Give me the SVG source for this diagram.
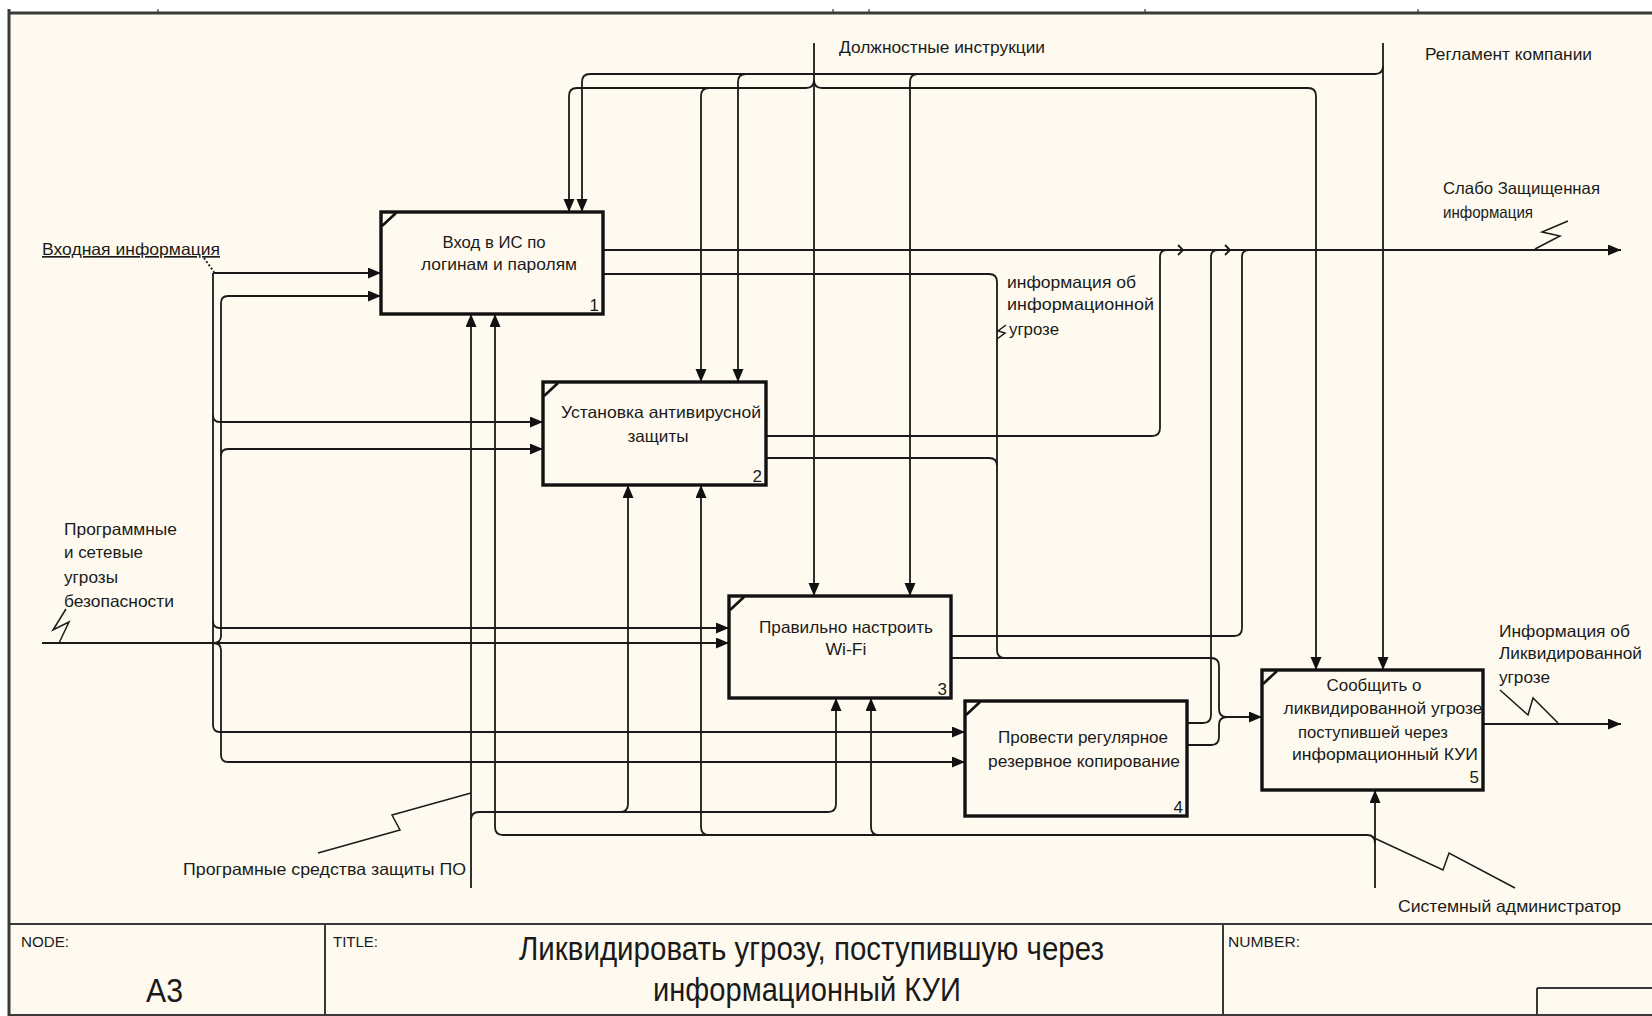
<svg xmlns="http://www.w3.org/2000/svg" width="1652" height="1016" viewBox="0 0 1652 1016">
  <defs>
    <marker id="ah" markerUnits="userSpaceOnUse" markerWidth="14" markerHeight="12" refX="13" refY="5.5" orient="auto">
      <path d="M0,0 L13,5.5 L0,11 z" fill="#111"/>
    </marker>
    <style>
      .frame { fill: none; stroke: #3a3a3a; }
      .box { fill: none; stroke: #111; stroke-width: 3.4; }
      .notch { stroke: #111; stroke-width: 2.6; }
      .c { fill: none; stroke: #1a1a1a; stroke-width: 1.8; }
      .ca { fill: none; stroke: #1a1a1a; stroke-width: 1.8; marker-end: url(#ah); }
      .sq { fill: none; stroke: #1a1a1a; stroke-width: 1.5; }
      .t { font-family: "Liberation Sans", Arial, sans-serif; font-size: 16.5px; fill: #1a1a1a; }
      .bt { font-family: "Liberation Sans", Arial, sans-serif; font-size: 16.5px; fill: #1a1a1a; text-anchor: middle; }
      .num { font-family: "Liberation Sans", Arial, sans-serif; font-size: 17px; fill: #1a1a1a; text-anchor: end; }
      .hdr { font-family: "Liberation Sans", Arial, sans-serif; font-size: 15px; fill: #1a1a1a; }
      .big { font-family: "Liberation Sans", Arial, sans-serif; font-size: 34px; fill: #1a1a1a; }
    </style>
  </defs>

  <!-- sheet -->
  <rect x="0" y="0" width="1652" height="1016" fill="#ffffff"/>
  <rect x="9" y="13" width="1643" height="1003" fill="#fffaef"/>
  <g id="frame">
    <line class="frame" x1="9" y1="13" x2="1652" y2="13" stroke-width="3"/>
    <line class="frame" x1="9" y1="9" x2="9" y2="1016" stroke-width="3"/>
    <line class="frame" x1="158" y1="9" x2="158" y2="13" stroke-width="1.2"/>
    <line class="frame" x1="833" y1="9" x2="833" y2="13" stroke-width="1.2"/>
    <line class="frame" x1="869" y1="9" x2="869" y2="13" stroke-width="1.2"/>
    <line class="frame" x1="1145" y1="9" x2="1145" y2="13" stroke-width="1.2"/>
    <line class="frame" x1="1418" y1="9" x2="1418" y2="13" stroke-width="1.2"/>
    <line class="frame" x1="9" y1="924" x2="1652" y2="924" stroke-width="2"/>
    <line class="frame" x1="9" y1="1015" x2="1652" y2="1015" stroke-width="2"/>
    <line class="frame" x1="325" y1="924" x2="325" y2="1015" stroke-width="2"/>
    <line class="frame" x1="1223" y1="924" x2="1223" y2="1015" stroke-width="2"/>
    <line class="frame" x1="1537" y1="988" x2="1652" y2="988" stroke-width="2"/>
    <line class="frame" x1="1537" y1="988" x2="1537" y2="1015" stroke-width="2"/>
    <text class="hdr" x="21" y="947" textLength="48" lengthAdjust="spacingAndGlyphs">NODE:</text>
    <text class="big" x="146" y="1002" textLength="37" lengthAdjust="spacingAndGlyphs">A3</text>
    <text class="hdr" x="333" y="947" textLength="45" lengthAdjust="spacingAndGlyphs">TITLE:</text>
    <text class="big" x="519" y="960" textLength="585" lengthAdjust="spacingAndGlyphs">Ликвидировать угрозу, поступившую через</text>
    <text class="big" x="653" y="1001" textLength="308" lengthAdjust="spacingAndGlyphs">информационный КУИ</text>
    <text class="hdr" x="1228" y="947" textLength="72" lengthAdjust="spacingAndGlyphs">NUMBER:</text>
  </g>

  <!-- arrows -->
  <g id="connectors">
    <!-- input: Входная информация -->
    <path class="ca" d="M213 273 H381"/>
    <path class="ca" d="M213 273 V725 Q213 732 220 732 H965"/>
    <path class="ca" d="M213 415 Q213 422 220 422 H543"/>
    <path class="ca" d="M213 621 Q213 628 220 628 H729"/>
    <path class="c" d="M204 258 L214 272" stroke-dasharray="2 2"/>

    <!-- input: Программные и сетевые угрозы безопасности -->
    <path class="ca" d="M42 643 H729"/>
    <path class="ca" d="M213 643 Q221 643 221 636 V303 Q221 296 228 296 H381"/>
    <path class="ca" d="M213 643 Q221 643 221 650 V755 Q221 762 228 762 H965"/>
    <path class="ca" d="M221 456 Q221 449 228 449 H543"/>
    <path class="sq" d="M66 609 L53 630 L69 622 L59 643"/>

    <!-- control: Должностные инструкции -->
    <path class="ca" d="M814 43 V596"/>
    <path class="ca" d="M814 80 Q814 88 806 88 H577 Q569 88 569 96 V212"/>
    <path class="ca" d="M709 88 Q701 88 701 96 V382"/>
    <path class="ca" d="M814 80 Q814 88 822 88 H1308 Q1316 88 1316 96 V670"/>

    <!-- control: Регламент компании -->
    <path class="ca" d="M1383 43 V670"/>
    <path class="ca" d="M1383 66 Q1383 74 1375 74 H590 Q582 74 582 82 V212"/>
    <path class="ca" d="M746 74 Q738 74 738 82 V382"/>
    <path class="ca" d="M918 74 Q910 74 910 82 V596"/>

    <!-- mechanism: Програмные средства защиты ПО -->
    <path class="ca" d="M471 888 V314"/>
    <path class="ca" d="M471 820 Q471 812 479 812 H828 Q836 812 836 804 V698"/>
    <path class="ca" d="M620 812 Q628 812 628 804 V485"/>
    <path class="sq" d="M318 853 L400 830 L392 815 L471 793"/>

    <!-- mechanism: Системный администратор -->
    <path class="ca" d="M1375 888 V790"/>
    <path class="ca" d="M1375 843 Q1375 835 1367 835 H503 Q495 835 495 827 V314"/>
    <path class="ca" d="M709 835 Q701 835 701 827 V485"/>
    <path class="ca" d="M879 835 Q871 835 871 827 V698"/>
    <path class="sq" d="M1372 837 L1443 870 L1449 853 L1515 888"/>

    <!-- output: Слабо Защищенная информация -->
    <path class="ca" d="M603 250 H1621"/>
    <path class="c" d="M766 436 H1152 Q1160 436 1160 428 V257 Q1160 250 1167 250"/>
    <path class="c" d="M951 636 H1234 Q1242 636 1242 628 V257 Q1242 250 1249 250"/>
    <path class="c" d="M1187 723 H1203 Q1211 723 1211 715 V257 Q1211 250 1218 250"/>
    <path class="c" d="M1178 245 L1183 250 L1178 255"/>
    <path class="c" d="M1225 245 L1230 250 L1225 255"/>
    <path class="sq" d="M1568 221 L1542 232 L1560 236 L1535 249"/>

    <!-- internal: информация об информационной угрозе -> box 5 -->
    <path class="ca" d="M603 274 H989 Q997 274 997 282 V650 Q997 658 1005 658 H1211 Q1219 658 1219 666 V709 Q1219 717 1227 717 H1262"/>
    <path class="c" d="M766 458 H989 Q997 458 997 466"/>
    <path class="c" d="M951 658 H1005"/>
    <path class="c" d="M1187 745 H1211 Q1219 745 1219 737 V725 Q1219 717 1227 717"/>
    <path class="sq" d="M1006 325 L998 331 L1005 333 L997 339"/>

    <!-- output: Информация об Ликвидированной угрозе -->
    <path class="ca" d="M1483 724 H1621"/>
    <path class="sq" d="M1500 690 L1528 715 L1533 698 L1558 723"/>
  </g>

  <!-- arrow labels -->
  <g id="labels">
    <text class="t" x="42" y="255" textLength="178" lengthAdjust="spacingAndGlyphs" text-decoration="underline">Входная информация</text>
    <text class="t" x="839" y="53" textLength="206" lengthAdjust="spacingAndGlyphs">Должностные инструкции</text>
    <text class="t" x="1425" y="60" textLength="167" lengthAdjust="spacingAndGlyphs">Регламент компании</text>
    <text class="t" x="1443" y="194" textLength="157" lengthAdjust="spacingAndGlyphs">Слабо Защищенная</text>
    <text class="t" x="1443" y="218" textLength="90" lengthAdjust="spacingAndGlyphs">информация</text>
    <text class="t" x="1007" y="288" textLength="129" lengthAdjust="spacingAndGlyphs">информация об</text>
    <text class="t" x="1007" y="310" textLength="147" lengthAdjust="spacingAndGlyphs">информационной</text>
    <text class="t" x="1009" y="335" textLength="50" lengthAdjust="spacingAndGlyphs">угрозе</text>
    <text class="t" x="64" y="535" textLength="113" lengthAdjust="spacingAndGlyphs">Программные</text>
    <text class="t" x="64" y="558" textLength="79" lengthAdjust="spacingAndGlyphs">и сетевые</text>
    <text class="t" x="64" y="583" textLength="54" lengthAdjust="spacingAndGlyphs">угрозы</text>
    <text class="t" x="64" y="607" textLength="110" lengthAdjust="spacingAndGlyphs">безопасности</text>
    <text class="t" x="183" y="875" textLength="283" lengthAdjust="spacingAndGlyphs">Програмные средства защиты ПО</text>
    <text class="t" x="1398" y="912" textLength="223" lengthAdjust="spacingAndGlyphs">Системный администратор</text>
    <text class="t" x="1499" y="637" textLength="131" lengthAdjust="spacingAndGlyphs">Информация об</text>
    <text class="t" x="1499" y="659" textLength="143" lengthAdjust="spacingAndGlyphs">Ликвидированной</text>
    <text class="t" x="1499" y="683" textLength="51" lengthAdjust="spacingAndGlyphs">угрозе</text>
  </g>

  <!-- activity boxes -->
  <g id="box1">
    <rect class="box" x="381" y="212" width="222" height="102"/>
    <line class="notch" x1="382" y1="226" x2="396" y2="213"/>
    <text class="bt" x="494" y="248" textLength="103" lengthAdjust="spacingAndGlyphs">Вход в ИС по</text>
    <text class="bt" x="499" y="270" textLength="156" lengthAdjust="spacingAndGlyphs">логинам и паролям</text>
    <text class="num" x="599" y="311">1</text>
  </g>
  <g id="box2">
    <rect class="box" x="543" y="382" width="223" height="103"/>
    <line class="notch" x1="544" y1="396" x2="558" y2="383"/>
    <text class="bt" x="661" y="418" textLength="200" lengthAdjust="spacingAndGlyphs">Установка антивирусной</text>
    <text class="bt" x="658" y="442" textLength="61" lengthAdjust="spacingAndGlyphs">защиты</text>
    <text class="num" x="762" y="482">2</text>
  </g>
  <g id="box3">
    <rect class="box" x="729" y="596" width="222" height="102"/>
    <line class="notch" x1="730" y1="610" x2="744" y2="597"/>
    <text class="bt" x="846" y="633" textLength="174" lengthAdjust="spacingAndGlyphs">Правильно настроить</text>
    <text class="bt" x="846" y="655" textLength="41" lengthAdjust="spacingAndGlyphs">Wi-Fi</text>
    <text class="num" x="947" y="695">3</text>
  </g>
  <g id="box4">
    <rect class="box" x="965" y="701" width="222" height="115"/>
    <line class="notch" x1="966" y1="715" x2="980" y2="702"/>
    <text class="bt" x="1083" y="743" textLength="170" lengthAdjust="spacingAndGlyphs">Провести регулярное</text>
    <text class="bt" x="1084" y="767" textLength="192" lengthAdjust="spacingAndGlyphs">резервное копирование</text>
    <text class="num" x="1183" y="813">4</text>
  </g>
  <g id="box5">
    <rect class="box" x="1262" y="670" width="221" height="120"/>
    <line class="notch" x1="1263" y1="684" x2="1277" y2="671"/>
    <text class="bt" x="1374" y="691" textLength="95" lengthAdjust="spacingAndGlyphs">Сообщить о</text>
    <text class="bt" x="1383" y="714" textLength="199" lengthAdjust="spacingAndGlyphs">ликвидированной угрозе</text>
    <text class="bt" x="1373" y="738" textLength="150" lengthAdjust="spacingAndGlyphs">поступившей через</text>
    <text class="bt" x="1385" y="760" textLength="186" lengthAdjust="spacingAndGlyphs">информационный КУИ</text>
    <text class="num" x="1479" y="783">5</text>
  </g>
</svg>
